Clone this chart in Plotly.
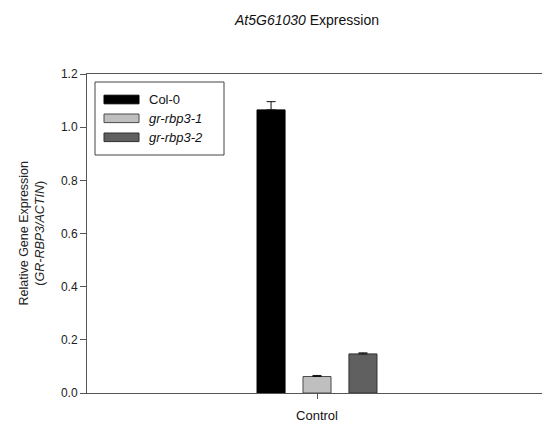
import plotly.graph_objects as go

categories = ["Control"]
series_names = ["Col-0", "gr-rbp3-1", "gr-rbp3-2"]
series_italic = [False, True, True]
values = {
    "Col-0": [1.065],
    "gr-rbp3-1": [0.062],
    "gr-rbp3-2": [0.147],
}
errors = {
    "Col-0": [0.031],
    "gr-rbp3-1": [0.004],
    "gr-rbp3-2": [0.004],
}
y_ticks = [0.0, 0.2, 0.4, 0.6, 0.8, 1.0, 1.2]
y_tick_labels = ["0.0", "0.2", "0.4", "0.6", "0.8", "1.0", "1.2"]

fill_colors = ["#000000", "#bfbfbf", "#606060"]
line_colors = ["#000000", "#4a4a4a", "#2e2e2e"]

W, H = 543, 424
L, R, T, B = 87, 1, 74, 31
pw, ph = W - L - R, H - T - B

def px(x):
    return (x - L) / pw

def py(y):
    return (H - B - y) / ph

fig = go.Figure()
for name, fc, lc in zip(series_names, fill_colors, line_colors):
    fig.add_trace(go.Bar(
        x=categories, y=values[name], name=name,
        marker=dict(color=fc, line=dict(color=lc, width=1)),
        error_y=dict(type="data", array=errors[name], arrayminus=[0] * len(categories),
                     symmetric=False, color="#111111", thickness=1, width=4.5),
        showlegend=False,
    ))

# manual legend (SigmaPlot style)
shapes = [dict(type="rect", xref="paper", yref="paper",
               x0=px(95), x1=px(224), y0=py(155), y1=py(82),
               line=dict(color="#444444", width=1), fillcolor="white", layer="above")]
annotations = []
row_centers = [99.5, 118.3, 137.3]
for name, ital, fc, lc, rc in zip(series_names, series_italic, fill_colors, line_colors, row_centers):
    shapes.append(dict(type="rect", xref="paper", yref="paper",
                       x0=px(104), x1=px(139), y0=py(rc + 4.3), y1=py(rc - 4.3),
                       line=dict(color=lc, width=1), fillcolor=fc, layer="above"))
    annotations.append(dict(xref="paper", yref="paper", x=px(147), y=py(rc),
                            xanchor="left", yanchor="middle", showarrow=False,
                            text=f"<i>{name}</i>" if ital else name,
                            font=dict(family="Liberation Sans, Arial", size=13, color="#111111")))

annotations.append(dict(xref="paper", yref="paper", x=0, xshift=-56, y=0.5,
                        xanchor="center", yanchor="middle", textangle=-90, showarrow=False,
                        text="Relative Gene Expression<br>(<i>GR-RBP3/ACTIN</i>)",
                        font=dict(family="Liberation Sans, Arial", size=12.5, color="#222222")))

annotations.append(dict(xref="paper", yref="paper", x=px(306), y=py(20),
                        xanchor="center", yanchor="middle", showarrow=False,
                        text="<i>At5G61030</i> Expression",
                        font=dict(family="Liberation Sans, Arial", size=14, color="#111111")))

fig.update_layout(
    width=W, height=H,
    margin=dict(l=L, r=R, t=T, b=B, pad=0),
    paper_bgcolor="white", plot_bgcolor="white",
    barmode="group", bargap=0.697, bargroupgap=0.39,
    shapes=shapes, annotations=annotations,
    font=dict(family="Liberation Sans, Arial", color="#222222"),
    xaxis=dict(range=[-0.5055, 0.4945], showline=True, mirror=True, linecolor="#555555",
               linewidth=1, ticks="outside", ticklen=5, tickcolor="#555555",
               showgrid=False, zeroline=False,
               tickfont=dict(size=13, color="#111111"), ticklabelstandoff=5),
    yaxis=dict(range=[0, 1.2], tickvals=y_ticks, ticktext=y_tick_labels,
               showline=True, linecolor="#555555", linewidth=1,
               ticks="outside", ticklen=6, tickcolor="#555555",
               showgrid=False, zeroline=False,
               tickfont=dict(size=12, color="#222222")),
)

fig.write_html("out.html")
